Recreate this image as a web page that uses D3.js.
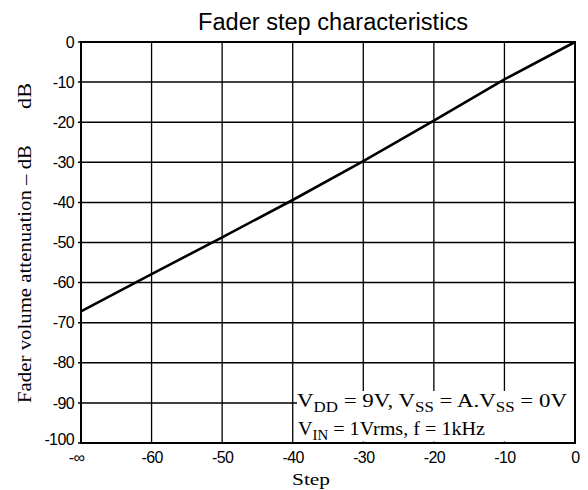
<!DOCTYPE html>
<html>
<head>
<meta charset="utf-8">
<script src="https://cdn.jsdelivr.net/npm/d3@7"></script>
<style>
  html, body { margin: 0; padding: 0; background: #fff; }
  svg { display: block; }
</style>
</head>
<body>
<svg id="chart" width="588" height="490"></svg>
<script>
// ---- data ----
const stepTicks = [-70, -60, -50, -40, -30, -20, -10, 0];
const stepLabels = ["-∞", "-60", "-50", "-40", "-30", "-20", "-10", "0"];
const dbTicks = [0, -10, -20, -30, -40, -50, -60, -70, -80, -90, -100];
const curveSteps = [-70, -60, -50, -40, -30, -20, -10, 0];
const curveDb = [-67.2, -57.9, -48.7, -39.4, -29.7, -19.6, -9.3, 0];
const titleText = "Fader step characteristics";
const yLabelText = "Fader volume attenuation – dB";
const yUnitText = "dB";
const xLabelText = "Step";

// ---- layout ----
const svg = d3.select("#chart");
const pLeft = 81, pRight = 575, pTop = 42, pBottom = 443;
const x = d3.scaleLinear().domain([-70, 0]).range([pLeft, pRight]);
const y = d3.scaleLinear().domain([-100, 0]).range([pBottom, pTop]);
const sans = "'Liberation Sans', Arial, Helvetica, sans-serif";
const serif = "'Liberation Serif', 'Times New Roman', serif";

function fitLength(sel, target) {
  sel.attr("textLength", target).attr("lengthAdjust", "spacingAndGlyphs");
}

// grid
const grid = svg.append("g");
grid.selectAll("line.v").data(stepTicks).join("line").attr("class", "v")
  .attr("x1", d => x(d)).attr("x2", d => x(d))
  .attr("y1", pTop).attr("y2", pBottom)
  .attr("stroke", "#000").attr("stroke-width", 1.3);
grid.selectAll("line.h").data(dbTicks).join("line").attr("class", "h")
  .attr("x1", pLeft - 3).attr("x2", pRight)
  .attr("y1", d => y(d)).attr("y2", d => y(d))
  .attr("stroke", "#000").attr("stroke-width", 1.5);

// frame
svg.append("rect").attr("x", pLeft).attr("y", pTop)
  .attr("width", pRight - pLeft).attr("height", pBottom - pTop)
  .attr("fill", "none").attr("stroke", "#000").attr("stroke-width", 2);

// y axis labels
const yAxis = d3.axisLeft(y).tickValues(dbTicks).tickSize(0).tickPadding(4)
  .tickFormat(d => d === 0 ? "0" : "-" + Math.abs(d));
const gy = svg.append("g").attr("transform", `translate(${pLeft - 3},0)`).call(yAxis);
gy.select(".domain").remove();
gy.selectAll("text").attr("font-family", sans).attr("font-size", 16)
  .attr("fill", "#000").attr("letter-spacing", "-0.6px");
gy.selectAll(".tick").filter(d => d === -100).select("text").attr("y", -4);

// x axis labels
const xAxis = d3.axisBottom(x).tickValues(stepTicks).tickSize(0).tickPadding(9)
  .tickFormat((d, i) => stepLabels[i]);
const gx = svg.append("g").attr("transform", `translate(0,${pBottom})`).call(xAxis);
gx.select(".domain").remove();
gx.selectAll("text").attr("font-family", sans).attr("font-size", 16)
  .attr("fill", "#000").attr("letter-spacing", "-0.6px");
gx.selectAll(".tick").filter(d => d === -70).select("text").attr("dx", -5);

// curve
const pts = curveSteps.map((s, i) => [s, curveDb[i]]);
svg.append("path").datum(pts)
  .attr("d", d3.line().x(d => x(d[0])).y(d => y(d[1])))
  .attr("fill", "none").attr("stroke", "#000").attr("stroke-width", 2.6)
  .attr("stroke-linejoin", "round");

// annotation box
svg.append("rect").attr("x", 297).attr("y", 391)
  .attr("width", pRight - 1 - 297).attr("height", pBottom - 1.5 - 391)
  .attr("fill", "#fff");
const ann1 = svg.append("text").attr("x", 297).attr("y", 407)
  .attr("font-family", serif).attr("font-size", 19).attr("fill", "#000");
ann1.append("tspan").text("V");
ann1.append("tspan").attr("font-size", 14).attr("dy", 5).text("DD");
ann1.append("tspan").attr("dy", -5).text(" = 9V, V");
ann1.append("tspan").attr("font-size", 14).attr("dy", 5).text("SS");
ann1.append("tspan").attr("dy", -5).text(" = A.V");
ann1.append("tspan").attr("font-size", 14).attr("dy", 5).text("SS");
ann1.append("tspan").attr("dy", -5).text(" = 0V");
fitLength(ann1, 270);
const ann2 = svg.append("text").attr("x", 298).attr("y", 435)
  .attr("font-family", serif).attr("font-size", 19).attr("fill", "#000");
ann2.append("tspan").text("V");
ann2.append("tspan").attr("font-size", 14).attr("dy", 5).text("IN");
ann2.append("tspan").attr("dy", -5).text(" = 1Vrms, f = 1kHz");
fitLength(ann2, 187);

// title
const title = svg.append("text").attr("x", 198).attr("y", 30)
  .attr("font-family", sans).attr("font-size", 23).attr("fill", "#000")
  .text(titleText);
fitLength(title, 270);

// x label
const xl = svg.append("text").attr("x", 292).attr("y", 485)
  .attr("font-family", serif).attr("font-size", 17).attr("fill", "#000")
  .text(xLabelText);
fitLength(xl, 38);

// y labels (rotated)
const yl = svg.append("text").attr("transform", "translate(31,403) rotate(-90)")
  .attr("font-family", serif).attr("font-size", 18).attr("fill", "#000")
  .text(yLabelText);
fitLength(yl, 258);
const yu = svg.append("text").attr("transform", "translate(31,109) rotate(-90)")
  .attr("font-family", serif).attr("font-size", 18).attr("fill", "#000")
  .text(yUnitText);
fitLength(yu, 26);
</script>
</body>
</html>
